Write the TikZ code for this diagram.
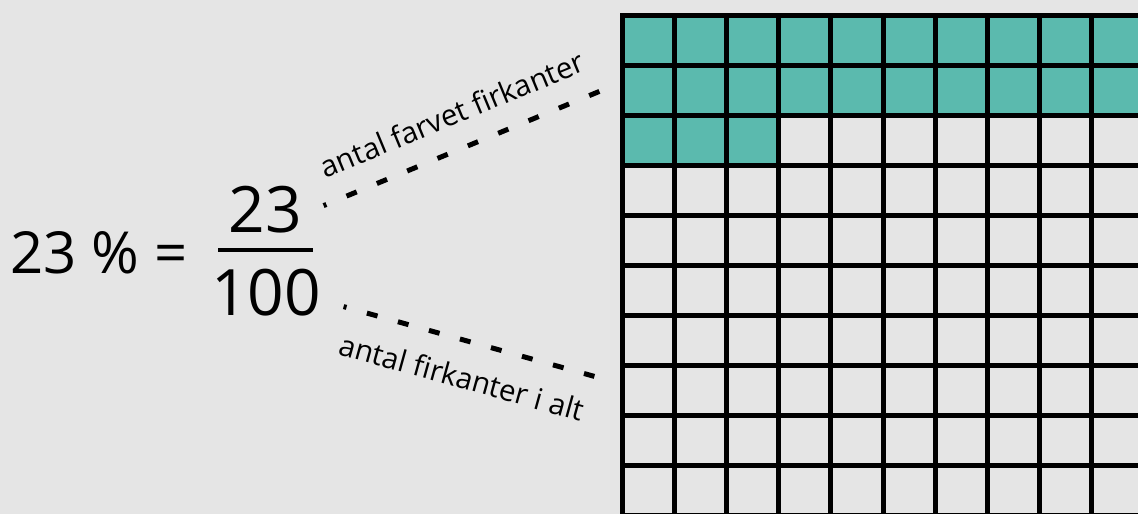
\documentclass[tikz,border=0pt]{standalone}
\usepackage{fontspec}
\setmainfont{Open Sans}
\usepackage{tikz}
\definecolor{farvet}{HTML}{5BBAAE}
\definecolor{baggrund}{HTML}{E5E5E5}
\tikzset{
  prikket/.style={line width=5pt, dash phase=8pt},
  stor/.style={font=\fontsize{64}{64}\selectfont},
  mellem/.style={font=\fontsize{58}{58}\selectfont},
  lille/.style={font=\fontsize{29.5}{29.5}\selectfont}
}

\begin{document}
\begin{tikzpicture}[x=1pt,y=-1pt]
\fill[baggrund] (0,0) rectangle (1138,514);
\useasboundingbox (0,0) rectangle (1138,514);
      \begin{scope}
\clip (0,0) rectangle (1138,514);
\foreach \i in {0,...,9} \fill[farvet] (622+52.2*\i,15.5) rectangle ++(52.2,100);
\foreach \i in {0,1,2} \fill[farvet] (622+52.2*\i,115.5) rectangle ++(52.2,50);
\foreach \i in {0,...,10} \draw[line width=5pt,line cap=rect] (622+52.2*\i,15.5) -- (622+52.2*\i,515.5);
\foreach \j in {0,...,10} \draw[line width=5pt,line cap=rect] (622,15.5+50*\j) -- (1144,15.5+50*\j);
\end{scope}
\node[mellem] (pct) at (99,253) {23 \% =};
\node[stor] (taeller) at (265,210) {23};
\node[stor] (naevner) at (266,293) {100};
\draw[line width=4pt] (218,250) -- (313,250);
\node[lille,rotate=22.5] (farvede) at (452,114) {antal farvet firkanter};
\node[lille,rotate=-15.5] (ialt) at (462,377) {antal firkanter i alt};
\coordinate (op1) at (323.6,205.6);
\coordinate (op2) at (599.4,91.4);
\coordinate (ned1) at (343.6,306.6);
\coordinate (ned2) at (594.4,376.4);
\draw[prikket,dash pattern=on 11pt off 21.83pt] (op1) -- (op2);
\draw[prikket,dash pattern=on 11pt off 21.19pt] (ned1) -- (ned2);
    \end{tikzpicture}
\end{document}
